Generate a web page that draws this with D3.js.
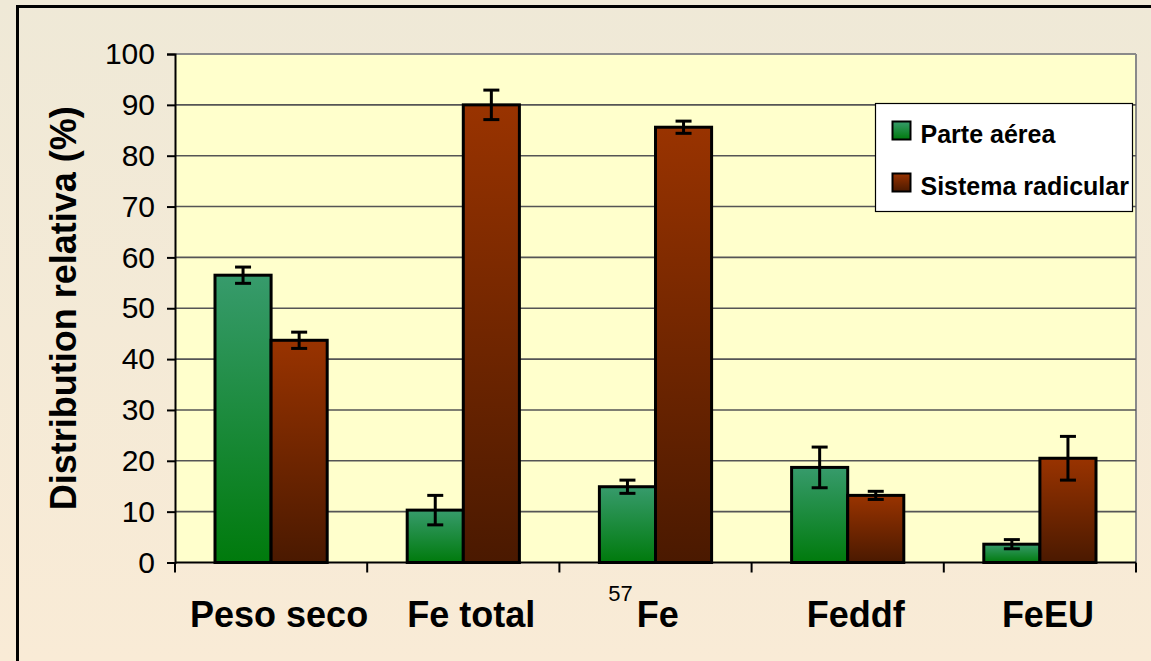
<!DOCTYPE html>
<html lang="es">
<head>
<meta charset="UTF-8">
<script src="https://d3js.org/d3.v7.min.js"></script>
<style>
  body { margin: 0; background: #f5ebd7; }
  text { font-family: "Liberation Sans", Arial, sans-serif; }
</style>
</head>
<body>
<svg id="chart" width="1151" height="661"></svg>
<script>
// data
const categories = ["Peso seco", "Fe total", "57Fe", "Feddf", "FeEU"];
const seriesNames = ["Parte aérea", "Sistema radicular"];
const parteAerea = [56.5, 10.3, 14.9, 18.7, 3.6];
const parteAereaErr = [1.6, 2.9, 1.3, 4.0, 0.9];
const sistemaRadicular = [43.7, 90.0, 85.6, 13.2, 20.5];
const sistemaRadicularErr = [1.6, 2.9, 1.2, 0.8, 4.3];
const yTicks = [0, 10, 20, 30, 40, 50, 60, 70, 80, 90, 100];

const svg = d3.select("svg#chart");
const width = +svg.attr("width");
const height = +svg.attr("height");
const margin = {top: 54, right: 15, bottom: 98.5, left: 175};
const chartWidth = width - margin.left - margin.right;
const chartHeight = height - margin.top - margin.bottom;

const defs = svg.append("defs");
function vGrad(id, c1, c2) {
  const g = defs.append("linearGradient").attr("id", id)
    .attr("x1", 0).attr("y1", 0).attr("x2", 0).attr("y2", 1);
  g.append("stop").attr("offset", "0%").attr("stop-color", c1);
  g.append("stop").attr("offset", "100%").attr("stop-color", c2);
}
vGrad("bgGrad", "#efe9d7", "#f9ebd6");
vGrad("greenGrad", "#379b6c", "#007a0c");
vGrad("redGrad", "#993300", "#4a1900");

// background + outer frame
svg.append("rect").attr("width", width).attr("height", height).attr("fill", "url(#bgGrad)");
svg.append("rect").attr("x", 17.5).attr("y", 6.5).attr("width", width + 20).attr("height", height + 20)
  .attr("fill", "none").attr("stroke", "#000").attr("stroke-width", 3);

const chart = svg.append("g").attr("transform", "translate(" + margin.left + "," + margin.top + ")");

const x = d3.scaleBand().domain(categories).range([0, chartWidth]);
const xSub = d3.scaleBand().domain(seriesNames).range([40, x.bandwidth() - 40]);
const y = d3.scaleLinear().domain([0, 100]).range([chartHeight, 0]);

// plot area
chart.append("rect").attr("width", chartWidth).attr("height", chartHeight).attr("fill", "#ffffcc");
chart.append("line").attr("x1", 0).attr("x2", chartWidth).attr("y1", y(100)).attr("y2", y(100))
  .attr("stroke", "#8a8a8a").attr("stroke-width", 2);
chart.append("line").attr("x1", chartWidth).attr("x2", chartWidth).attr("y1", y(100)).attr("y2", y(0))
  .attr("stroke", "#8a8a8a").attr("stroke-width", 2);

// gridlines
chart.selectAll("line.grid").data(yTicks.filter(d => d > 0 && d < 100)).join("line")
  .attr("class", "grid")
  .attr("x1", 0).attr("x2", chartWidth)
  .attr("y1", d => y(d)).attr("y2", d => y(d))
  .attr("stroke", "#555").attr("stroke-width", 1.6);

// bars
const series = [
  {name: seriesNames[0], values: parteAerea, errs: parteAereaErr, fill: "url(#greenGrad)"},
  {name: seriesNames[1], values: sistemaRadicular, errs: sistemaRadicularErr, fill: "url(#redGrad)"}
];

series.forEach(s => {
  const g = chart.append("g");
  g.selectAll("rect").data(categories).join("rect")
    .attr("x", d => x(d) + xSub(s.name))
    .attr("y", (d, i) => y(s.values[i]))
    .attr("width", xSub.bandwidth())
    .attr("height", (d, i) => y(0) - y(s.values[i]))
    .attr("fill", s.fill)
    .attr("stroke", "#000").attr("stroke-width", 3);
});

// error bars
series.forEach(s => {
  const g = chart.append("g").attr("stroke", "#000").attr("stroke-width", 3);
  categories.forEach((c, i) => {
    const cx = x(c) + xSub(s.name) + xSub.bandwidth() / 2;
    const top = y(s.values[i] + s.errs[i]);
    const bot = y(s.values[i] - s.errs[i]);
    g.append("line").attr("x1", cx).attr("x2", cx).attr("y1", top).attr("y2", bot);
    g.append("line").attr("x1", cx - 8).attr("x2", cx + 8).attr("y1", top).attr("y2", top);
    g.append("line").attr("x1", cx - 8).attr("x2", cx + 8).attr("y1", bot).attr("y2", bot);
  });
});

// y axis
const yAxis = chart.append("g")
  .call(d3.axisLeft(y).tickValues(yTicks).tickSize(8).tickPadding(12));
yAxis.select(".domain").attr("stroke", "#000").attr("stroke-width", 2);
yAxis.selectAll(".tick line").attr("stroke", "#000").attr("stroke-width", 2);
yAxis.selectAll(".tick text").attr("font-size", 30).attr("fill", "#000")
  .attr("font-family", "'Liberation Sans', Arial, sans-serif");

// x axis
const xAxis = chart.append("g").attr("transform", "translate(0," + chartHeight + ")");
xAxis.append("line").attr("x1", 0).attr("x2", chartWidth).attr("stroke", "#000").attr("stroke-width", 2);
xAxis.selectAll("line.tick").data(categories.concat(["end"])).join("line")
  .attr("class", "tick")
  .attr("x1", (d, i) => i < categories.length ? x(d) : chartWidth)
  .attr("x2", (d, i) => i < categories.length ? x(d) : chartWidth)
  .attr("y1", 0).attr("y2", 10)
  .attr("stroke", "#000").attr("stroke-width", 2);

xAxis.selectAll("text.cat").data(categories).join("text")
  .attr("class", "cat")
  .attr("x", d => x(d) + x.bandwidth() / 2 + (d === "57Fe" ? -12 : 8))
  .attr("y", 64)
  .attr("text-anchor", "middle")
  .attr("font-size", 36).attr("font-weight", "bold").attr("fill", "#000")
  .each(function(d) {
    const t = d3.select(this);
    if (d === "57Fe") {
      t.append("tspan").text("57").attr("font-size", 22).attr("font-weight", "normal").attr("dy", -26);
      t.append("tspan").text("Fe").attr("dx", 4).attr("dy", 26);
    } else {
      t.text(d);
    }
  });

// y title
svg.append("text")
  .attr("transform", "translate(76," + (margin.top + chartHeight / 2) + ") rotate(-90)")
  .attr("text-anchor", "middle")
  .attr("font-size", 36).attr("font-weight", "bold").attr("fill", "#000")
  .text("Distribution relativa (%)");

// legend
const legend = svg.append("g").attr("transform", "translate(875.5,103.5)");
defs.append("clipPath").attr("id", "legClip").append("rect").attr("width", 257).attr("height", 108);
legend.append("rect").attr("width", 257).attr("height", 108)
  .attr("fill", "#fff").attr("stroke", "#000").attr("stroke-width", 1.2);
const legItems = legend.append("g").attr("clip-path", "url(#legClip)");
series.forEach((s, i) => {
  const row = legItems.append("g").attr("transform", "translate(17," + (18 + i * 52) + ")");
  row.append("rect").attr("width", 18).attr("height", 18)
    .attr("fill", s.fill).attr("stroke", "#000").attr("stroke-width", 2);
  row.append("text").attr("x", 28).attr("y", 21)
    .attr("font-size", 25).attr("font-weight", "bold").attr("fill", "#000")
    .text(s.name);
});
</script>
</body>
</html>
